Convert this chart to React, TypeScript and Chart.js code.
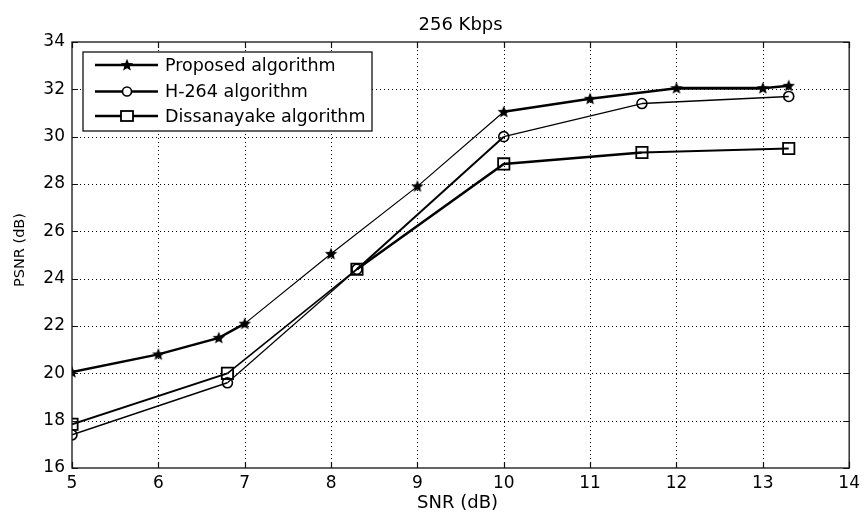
import React, { useEffect, useRef } from "react";
import { Chart, registerables } from "chart.js";

Chart.register(...registerables);

const chartTitle = "256 Kbps";
const xLabel = "SNR (dB)";
const yLabel = "PSNR (dB)";
const seriesNames = ["Proposed algorithm", "H-264 algorithm", "Dissanayake algorithm"];

const snrProposed = [5, 6, 6.7, 7, 8, 9, 10, 11, 12, 13, 13.3];
const psnrProposed = [20.05, 20.8, 21.5, 22.1, 25.05, 27.9, 31.05, 31.6, 32.05, 32.05, 32.15];

const snrH264 = [5, 6.8, 8.3, 10, 11.6, 13.3];
const psnrH264 = [17.4, 19.6, 24.4, 30.0, 31.4, 31.7];

const snrDiss = [5, 6.8, 8.3, 10, 11.6, 13.3];
const psnrDiss = [17.85, 20.0, 24.4, 28.85, 29.33, 29.5];

const xMin = 5, xMax = 14, xStep = 1;
const yMin = 16, yMax = 34, yStep = 2;

// per-segment line widths (style only)
const widthsProposed = [2.5, 2.5, 2.5, 1.2, 1.2, 1.2, 2.5, 2.5, 3, 2.5];
const widthsH264 = [1.5, 1.2, 2, 1.3, 1.5];
const widthsDiss = [2, 1.6, 2.5, 2.5, 2];

const FONT = "'DejaVu Sans', sans-serif";

function makeStar(): HTMLCanvasElement {
  const c = document.createElement("canvas");
  c.width = 14;
  c.height = 14;
  const g = c.getContext("2d")!;
  g.fillStyle = "#000";
  g.beginPath();
  const cx = 7, cy = 7.3, R = 6.5, r = 2.9;
  for (let i = 0; i < 10; i++) {
    const a = -Math.PI / 2 + (i * Math.PI) / 5;
    const rad = i % 2 === 0 ? R : r;
    const px = cx + rad * Math.cos(a);
    const py = cy + rad * Math.sin(a);
    if (i === 0) g.moveTo(px, py);
    else g.lineTo(px, py);
  }
  g.closePath();
  g.fill();
  return c;
}

const toPoints = (xs: number[], ys: number[]) => xs.map((x, i) => ({ x, y: ys[i] }));

export default function App() {
  const ref = useRef<HTMLCanvasElement | null>(null);

  useEffect(() => {
    document.body.style.margin = "0";
    const canvas = ref.current;
    if (!canvas) return;
    const star = makeStar();

    const framePlugin = {
      id: "matlabFrame",
      beforeDatasetsDraw(chart: any) {
        const { ctx, chartArea: a, scales } = chart;
        ctx.save();
        ctx.strokeStyle = "#000";
        ctx.lineWidth = 1;
        ctx.setLineDash([1, 3]);
        scales.x.ticks.forEach((t: any) => {
          if (t.value <= xMin || t.value >= xMax) return;
          const px = Math.round(scales.x.getPixelForValue(t.value)) + 0.5;
          ctx.beginPath();
          ctx.moveTo(px, a.top);
          ctx.lineTo(px, a.bottom);
          ctx.stroke();
        });
        scales.y.ticks.forEach((t: any) => {
          if (t.value <= yMin || t.value >= yMax) return;
          const py = Math.round(scales.y.getPixelForValue(t.value)) + 0.5;
          ctx.beginPath();
          ctx.moveTo(a.left, py);
          ctx.lineTo(a.right, py);
          ctx.stroke();
        });
        ctx.restore();
      },
      afterDatasetsDraw(chart: any) {
        const { ctx, chartArea: a, scales } = chart;
        ctx.save();
        ctx.setLineDash([]);
        ctx.strokeStyle = "#111";
        ctx.lineWidth = 1.3;
        ctx.strokeRect(a.left, a.top, a.right - a.left, a.bottom - a.top);
        const tl = 6;
        ctx.lineWidth = 1.2;
        scales.x.ticks.forEach((t: any) => {
          const px = Math.round(scales.x.getPixelForValue(t.value)) + 0.5;
          ctx.beginPath();
          ctx.moveTo(px, a.bottom);
          ctx.lineTo(px, a.bottom - tl);
          ctx.moveTo(px, a.top);
          ctx.lineTo(px, a.top + tl);
          ctx.stroke();
        });
        scales.y.ticks.forEach((t: any) => {
          const py = Math.round(scales.y.getPixelForValue(t.value)) + 0.5;
          ctx.beginPath();
          ctx.moveTo(a.left, py);
          ctx.lineTo(a.left + tl, py);
          ctx.moveTo(a.right, py);
          ctx.lineTo(a.right - tl, py);
          ctx.stroke();
        });

        // legend
        const lx = a.left + 11, ly = a.top + 10, lw = 289, lh = 79;
        ctx.fillStyle = "#fff";
        ctx.fillRect(lx, ly, lw, lh);
        ctx.strokeStyle = "#111";
        ctx.lineWidth = 1.3;
        ctx.strokeRect(lx, ly, lw, lh);
        const rows = [ly + 13, ly + 39.5, ly + 64];
        ctx.font = `17.5px ${FONT}`;
        ctx.textBaseline = "middle";
        ctx.textAlign = "left";
        rows.forEach((ry, i) => {
          ctx.strokeStyle = "#000";
          ctx.lineWidth = 2.5;
          ctx.beginPath();
          ctx.moveTo(lx + 12, ry);
          ctx.lineTo(lx + 75, ry);
          ctx.stroke();
          const mx = lx + 44;
          if (i === 0) {
            ctx.drawImage(star, mx - 7, ry - 7, 14, 14);
          } else if (i === 1) {
            ctx.lineWidth = 1.6;
            ctx.fillStyle = "#fff";
            ctx.beginPath();
            ctx.arc(mx, ry, 4.5, 0, Math.PI * 2);
            ctx.fill();
            ctx.stroke();
          } else {
            ctx.lineWidth = 1.8;
            ctx.fillStyle = "#fff";
            ctx.fillRect(mx - 6, ry - 5, 12, 10);
            ctx.strokeRect(mx - 6, ry - 5, 12, 10);
          }
          ctx.fillStyle = "#000";
          ctx.fillText(seriesNames[i], lx + 82, ry + 1);
        });
        ctx.restore();
      },
      afterDraw(chart: any) {
        const { ctx, chartArea: a } = chart;
        ctx.save();
        ctx.fillStyle = "#000";
        ctx.textAlign = "center";
        ctx.textBaseline = "alphabetic";
        ctx.font = `18px ${FONT}`;
        ctx.fillText(chartTitle, (a.left + a.right) / 2, 30);
        ctx.fillText(xLabel, (a.left + a.right) / 2 - 3, 508);
        ctx.translate(20, (a.top + a.bottom) / 2 - 5);
        ctx.rotate(-Math.PI / 2);
        ctx.textBaseline = "middle";
        ctx.font = `14.5px ${FONT}`;
        ctx.fillText(yLabel, 0, 0);
        ctx.restore();
      },
    };

    const mkSeg = (w: number[]) => ({
      borderWidth: (c: any) => w[c.p0DataIndex] ?? 1.5,
    });

    const chart = new Chart(canvas, {
      type: "line",
      data: {
        datasets: [
          {
            label: seriesNames[0],
            data: toPoints(snrProposed, psnrProposed),
            borderColor: "#000",
            borderWidth: 1.5,
            pointStyle: star as any,
            pointRadius: 7,
            segment: mkSeg(widthsProposed) as any,
            tension: 0,
          },
          {
            label: seriesNames[1],
            data: toPoints(snrH264, psnrH264),
            borderColor: "#000",
            borderWidth: 1.5,
            pointStyle: "circle",
            pointRadius: 5,
            pointBorderWidth: 1.6,
            pointBorderColor: "#000",
            pointBackgroundColor: "rgba(0,0,0,0)",
            segment: mkSeg(widthsH264) as any,
            tension: 0,
          },
          {
            label: seriesNames[2],
            data: toPoints(snrDiss, psnrDiss),
            borderColor: "#000",
            borderWidth: 2,
            pointStyle: "rect",
            pointRadius: 8,
            pointBorderWidth: 1.8,
            pointBorderColor: "#000",
            pointBackgroundColor: "rgba(0,0,0,0)",
            segment: mkSeg(widthsDiss) as any,
            tension: 0,
          },
        ],
      },
      options: {
        responsive: false,
        animation: false,
        events: [],
        layout: { padding: { top: 42, right: 11, left: 0, bottom: 0 } },
        plugins: {
          legend: { display: false },
          title: { display: false },
          tooltip: { enabled: false },
        },
        scales: {
          x: {
            type: "linear",
            min: xMin,
            max: xMax,
            grid: { display: false, drawTicks: false },
            border: { display: false },
            ticks: {
              stepSize: xStep,
              color: "#000",
              font: { family: FONT, size: 17 },
              padding: 5,
              maxRotation: 0,
              autoSkip: false,
            },
            afterFit: (s: any) => {
              s.height = 45;
            },
          },
          y: {
            type: "linear",
            min: yMin,
            max: yMax,
            grid: { display: false, drawTicks: false },
            border: { display: false },
            ticks: {
              stepSize: yStep,
              color: "#000",
              font: { family: FONT, size: 17 },
              padding: 7,
              autoSkip: false,
            },
            afterFit: (s: any) => {
              s.width = 72;
            },
          },
        },
      },
      plugins: [framePlugin],
    });

    return () => chart.destroy();
  }, []);

  return (
    <div style={{ width: 865, height: 513, background: "#fff" }}>
      <canvas ref={ref} width={865} height={513} style={{ display: "block" }} />
    </div>
  );
}
